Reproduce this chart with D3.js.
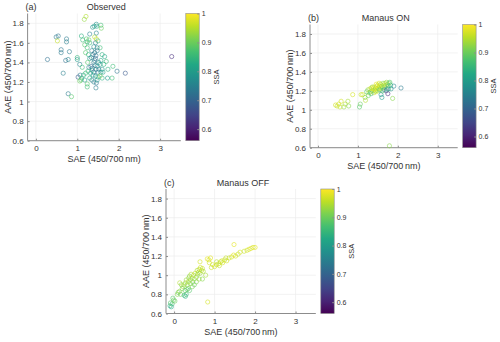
<!DOCTYPE html>
<meta charset="utf-8">
<style>
    body { margin: 0; background: #fff; }
    text { font-family: "Liberation Sans", Arial, sans-serif; fill: #333; }
    .grid line { stroke: #ececec; stroke-width: 0.7px; }
    .axis path, .axis line { stroke: #8c8c8c; }
</style>
<body>
<script src="https://d3js.org/d3.v7.min.js"></script>
<script>
    // [SAE, AAE, SSA]
    const observed = [
        [0.28,1.43,0.72],[0.49,1.66,0.74],[0.54,1.67,0.73],[0.52,1.62,0.96],
        [0.74,1.64,0.74],[0.74,1.61,0.75],[0.61,1.53,0.73],[0.61,1.50,0.74],[0.81,1.51,0.74],
        [0.72,1.42,0.72],[0.78,1.43,0.76],[0.66,1.29,0.75],[0.78,1.08,0.74],[0.86,1.05,0.88],
        [1.21,1.87,0.95],[1.17,1.84,0.93],[1.00,1.45,0.85],[1.00,1.43,0.80],[1.06,1.38,0.76],
        [1.02,1.25,0.68],[1.07,1.27,0.74],[1.09,1.22,0.88],[1.06,1.21,0.90],[1.11,1.24,0.86],
        [1.10,1.67,0.84],[1.13,1.63,0.86],[1.22,1.64,0.87],[1.24,1.61,0.83],
        [1.30,1.69,0.76],[1.37,1.76,0.78],[1.41,1.77,0.80],[1.46,1.79,0.78],[1.47,1.77,0.82],
        [1.57,1.78,0.86],[1.58,1.75,0.90],[1.42,1.66,0.95],[1.46,1.64,0.96],[1.46,1.70,0.76],[1.44,1.60,0.74],
        [1.30,1.60,0.85],[1.18,1.58,0.88],[1.24,1.55,0.86],[1.20,1.50,0.88],[1.27,1.48,0.84],
        [1.35,1.52,0.76],[1.38,1.48,0.74],[1.42,1.50,0.72],[1.45,1.47,0.73],[1.48,1.52,0.75],
        [1.55,1.55,0.86],[1.60,1.48,0.84],[1.57,1.42,0.82],[1.52,1.40,0.78],
        [1.30,1.44,0.80],[1.25,1.40,0.88],[1.33,1.36,0.70],[1.28,1.35,0.76],[1.36,1.34,0.72],
        [1.40,1.40,0.76],[1.43,1.37,0.74],[1.45,1.33,0.73],[1.48,1.36,0.78],[1.50,1.30,0.74],
        [1.40,1.30,0.72],[1.38,1.27,0.80],[1.32,1.29,0.82],[1.26,1.31,0.85],[1.20,1.29,0.86],
        [1.15,1.27,0.84],[1.18,1.22,0.80],[1.24,1.18,0.88],[1.24,1.15,0.86],
        [1.35,1.22,0.74],[1.40,1.20,0.76],[1.45,1.14,0.74],[1.46,1.19,0.72],
        [1.50,1.25,0.85],[1.55,1.26,0.92],[1.57,1.30,0.80],[1.60,1.33,0.78],[1.62,1.30,0.82],
        [1.52,1.33,0.76],[1.55,1.38,0.80],[1.70,1.41,0.86],[1.74,1.33,0.84],[1.86,1.36,0.86],
        [1.84,1.24,0.86],[1.73,1.24,0.80],[1.96,1.31,0.73],[2.16,1.29,0.68],[3.28,1.46,0.62],
        [1.66,1.46,0.82],[1.64,1.38,0.84],[1.42,1.42,0.75],[1.44,1.26,0.78],[1.34,1.45,0.74],
        [1.48,1.55,0.74],[1.40,1.56,0.78],[1.28,1.63,0.90],[1.50,1.62,0.86],[1.36,1.32,0.80],
        [1.30,1.24,0.83],[1.48,1.22,0.80],[1.60,1.24,0.84],[1.12,1.35,0.86],[1.44,1.44,0.70]
    ];

    const manausOn = [
        [0.44,1.05,0.97],[0.48,1.04,0.96],[0.52,1.06,0.97],[0.55,1.03,0.96],[0.58,1.09,0.97],
        [0.65,1.03,0.93],[0.68,1.06,0.95],[0.75,1.09,0.94],[0.77,1.04,0.92],[0.87,1.16,0.97],
        [1.04,1.03,0.88],[1.06,1.06,0.90],[1.08,1.16,0.96],[1.12,1.16,0.97],[1.19,1.10,0.95],
        [1.22,1.19,0.88],[1.25,1.21,0.92],[1.28,1.18,0.94],[1.30,1.22,0.96],[1.32,1.19,0.90],
        [1.34,1.23,0.97],[1.36,1.20,0.95],[1.38,1.22,0.98],[1.40,1.18,0.96],[1.40,1.24,0.97],
        [1.42,1.21,0.98],[1.44,1.23,0.95],[1.45,1.19,0.97],[1.47,1.25,0.96],[1.48,1.22,0.98],
        [1.50,1.20,0.94],[1.50,1.26,0.97],[1.52,1.23,0.96],[1.54,1.25,0.95],[1.56,1.22,0.97],
        [1.57,1.27,0.94],[1.58,1.24,0.96],[1.60,1.25,0.93],[1.62,1.23,0.95],[1.63,1.28,0.92],
        [1.65,1.26,0.94],[1.67,1.24,0.90],[1.68,1.28,0.95],[1.70,1.26,0.96],[1.72,1.29,0.93],
        [1.74,1.27,0.94],[1.76,1.25,0.88],[1.78,1.28,0.90],[1.33,1.17,0.86],[1.36,1.24,0.93],
        [1.44,1.20,0.93],[1.26,1.15,0.90],[1.18,1.13,0.92],[1.46,1.27,0.98],[1.53,1.28,0.97],
        [1.61,1.20,0.90],[1.55,1.21,0.86],[1.58,1.16,0.78],[1.60,1.13,0.80],[1.66,1.21,0.82],
        [1.71,1.20,0.66],[1.75,1.17,0.62],[1.73,1.22,0.76],[1.77,1.22,0.85],[1.83,1.22,0.78],
        [1.90,1.25,0.76],[2.08,1.23,0.74],[1.87,1.12,0.92],[1.82,1.26,0.84],[1.80,1.29,0.88],
        [1.79,0.62,0.92]
    ];

    const manausOff = [
        [-0.10,0.68,0.84],[-0.07,0.67,0.82],[-0.09,0.71,0.88],[-0.05,0.70,0.86],[-0.03,0.76,0.88],
        [-0.01,0.74,0.90],[0.02,0.73,0.90],[0.08,0.80,0.92],[0.10,0.82,0.90],[0.13,0.83,0.93],
        [0.16,0.80,0.90],[0.14,0.92,0.95],[0.18,0.90,0.92],[0.22,0.88,0.94],[0.20,0.86,0.91],
        [0.25,0.79,0.86],[0.28,0.78,0.84],[0.30,0.80,0.86],[0.27,0.84,0.90],[0.32,0.85,0.88],
        [0.35,0.86,0.90],[0.38,0.84,0.88],[0.25,0.90,0.93],[0.28,0.92,0.94],[0.30,0.95,0.93],
        [0.33,0.90,0.92],[0.35,0.93,0.95],[0.36,0.97,0.94],[0.38,0.99,0.92],[0.40,0.95,0.93],
        [0.42,1.01,0.95],[0.44,0.97,0.94],[0.46,0.93,0.91],[0.48,1.00,0.95],[0.50,0.96,0.93],
        [0.52,1.02,0.96],[0.55,0.98,0.94],[0.57,1.05,0.95],[0.58,1.01,0.92],[0.60,1.03,0.96],
        [0.62,1.06,0.95],[0.64,1.02,0.93],[0.65,1.08,0.97],[0.68,1.05,0.96],[0.70,1.07,0.96],
        [0.72,1.04,0.94],[0.55,0.93,0.92],[0.50,0.90,0.90],[0.45,0.88,0.91],[0.40,0.91,0.92],
        [0.62,0.96,0.93],[0.70,0.96,0.92],[0.78,1.00,0.94],[0.64,1.14,0.97],[0.82,1.17,0.98],
        [0.86,1.16,0.97],[0.90,1.18,0.98],[0.87,1.13,0.97],[0.83,0.72,0.97],[1.00,1.09,0.97],
        [1.05,1.11,0.96],[1.10,1.12,0.97],[1.15,1.14,0.96],[1.20,1.13,0.97],[1.25,1.16,0.96],
        [1.30,1.15,0.97],[1.36,1.18,0.96],[1.42,1.19,0.97],[1.47,1.21,0.98],[1.52,1.20,0.97],
        [1.48,1.32,0.98],[1.58,1.22,0.96],[1.63,1.24,0.97],[1.73,1.25,0.96],[1.80,1.26,0.97],
        [1.85,1.27,0.97],[1.90,1.28,0.98],[1.95,1.29,0.97],[2.00,1.29,0.98],[1.05,1.14,0.95],
        [1.12,1.10,0.96],[1.18,1.15,0.97],[1.28,1.18,0.96],[0.95,1.11,0.97],[0.92,1.08,0.96]
    ];

    const xTicks = [0, 1, 2, 3];
    const yTicks = [0.6, 0.8, 1.0, 1.2, 1.4, 1.6, 1.8];
    const ssaTicks = [0.6, 0.7, 0.8, 0.9, 1];
    const xDomain = [-0.2, 3.5];
    const yDomain = [0.6, 1.9];
    const ssaDomain = [0.56, 1.0];

    const width = 500, height = 342;

    var svg = d3.select("body").append("svg")
        .attr("width", width)
        .attr("height", height);

    const color = d3.scaleSequential(d3.interpolateViridis).domain(ssaDomain);

    // panel boxes in pixels: left, right, top, bottom
    const panels = [
        { data: observed, title: "Observed", tag: "(a)", l: 27.6, r: 180.8, t: 13.5, b: 140.7, id: "a" },
        { data: manausOn, title: "Manaus ON", tag: "(b)", l: 310, r: 457.7, t: 24.5, b: 147.7, id: "b" },
        { data: manausOff, title: "Manaus OFF", tag: "(c)", l: 166, r: 315.8, t: 189, b: 313.5, id: "c" }
    ];

    function drawPanel(p) {
        var g = svg.append("g");

        var x = d3.scaleLinear().domain(xDomain).range([p.l, p.r]);
        var y = d3.scaleLinear().domain(yDomain).range([p.b, p.t]);

        // grid
        var grid = g.append("g").attr("class", "grid");
        grid.selectAll(".gx").data(xTicks).enter().append("line")
            .attr("x1", d => x(d)).attr("x2", d => x(d))
            .attr("y1", p.t).attr("y2", p.b);
        grid.selectAll(".gy").data(yTicks).enter().append("line")
            .attr("y1", d => y(d)).attr("y2", d => y(d))
            .attr("x1", p.l).attr("x2", p.r);

        // axes
        var xAxis = d3.axisBottom(x).tickValues(xTicks).tickSize(-2).tickPadding(5)
            .tickFormat(d3.format("d"));
        var yAxis = d3.axisLeft(y).tickValues(yTicks).tickSize(-2).tickPadding(4)
            .tickFormat(d => d === 1 ? "1" : d3.format(".1f")(d));

        g.append("g").attr("class", "axis")
            .attr("transform", "translate(0," + p.b + ")")
            .call(xAxis)
            .call(s => s.select(".domain").attr("d", "M" + p.l + ",0H" + p.r))
            .selectAll("text").style("font-size", "8px").attr("fill", "#444")
            .style("font-family", "'Liberation Sans', Arial, sans-serif");

        g.append("g").attr("class", "axis")
            .attr("transform", "translate(" + p.l + ",0)")
            .call(yAxis)
            .call(s => s.select(".domain").attr("d", "M0," + p.t + "V" + p.b))
            .selectAll("text").style("font-size", "8px").attr("fill", "#444")
            .style("font-family", "'Liberation Sans', Arial, sans-serif");

        // points
        g.append("g").selectAll("circle")
            .data(p.data)
            .enter().append("circle")
            .attr("cx", d => x(d[0]))
            .attr("cy", d => y(d[1]))
            .attr("r", 2.1)
            .attr("fill", "none")
            .attr("stroke", d => color(d[2]))
            .attr("stroke-width", 0.7)
            .attr("stroke-opacity", 0.8);

        // labels
        var cx = (p.l + p.r) / 2, cy = (p.t + p.b) / 2;
        g.append("text").attr("x", cx + 2).attr("y", p.t - 3.5)
            .attr("text-anchor", "middle").style("font-size", "9px").text(p.title);
        g.append("text").attr("x", p.l - 2).attr("y", p.t - 3.5)
            .style("font-size", "9px").text(p.tag);
        g.append("text").attr("x", cx).attr("y", p.b + 21.5)
            .attr("text-anchor", "middle").style("font-size", "9px").text("SAE (450/700\u2009nm)");
        g.append("text")
            .attr("transform", "translate(" + (p.l - 17) + "," + cy + ") rotate(-90)")
            .attr("text-anchor", "middle").style("font-size", "9px").text("AAE (450/700\u2009nm)");

        // colorbar
        var cbL = p.r + 5, cbW = 13.4;
        var cs = d3.scaleLinear().domain(ssaDomain).range([p.b, p.t]);
        var gradId = "grad-" + p.id;
        var grad = svg.append("defs").append("linearGradient")
            .attr("id", gradId).attr("x1", 0).attr("y1", 1).attr("x2", 0).attr("y2", 0);
        d3.range(0, 1.0001, 0.1).forEach(function (t) {
            grad.append("stop").attr("offset", t)
                .attr("stop-color", d3.interpolateViridis(t));
        });
        g.append("rect").attr("x", cbL).attr("y", p.t)
            .attr("width", cbW).attr("height", p.b - p.t)
            .attr("fill", "url(#" + gradId + ")")
            .attr("stroke", "#8c8c8c").attr("stroke-width", 0.6);

        var cAxis = d3.axisRight(cs).tickValues(ssaTicks).tickSize(-2).tickPadding(2.5)
            .tickFormat(d => d === 1 ? "1" : d3.format(".1f")(d));
        g.append("g").attr("class", "axis")
            .attr("transform", "translate(" + (cbL + cbW) + ",0)")
            .call(cAxis)
            .call(s => s.select(".domain").remove())
            .selectAll("text").style("font-size", "7px").attr("fill", "#444")
            .style("font-family", "'Liberation Sans', Arial, sans-serif");

        g.append("text")
            .attr("transform", "translate(" + (cbL + cbW + 19.5) + "," + cy + ") rotate(-90)")
            .attr("text-anchor", "middle").style("font-size", "7.5px").text("SSA");
    }

    panels.forEach(drawPanel);
</script>
</body>
</html>
